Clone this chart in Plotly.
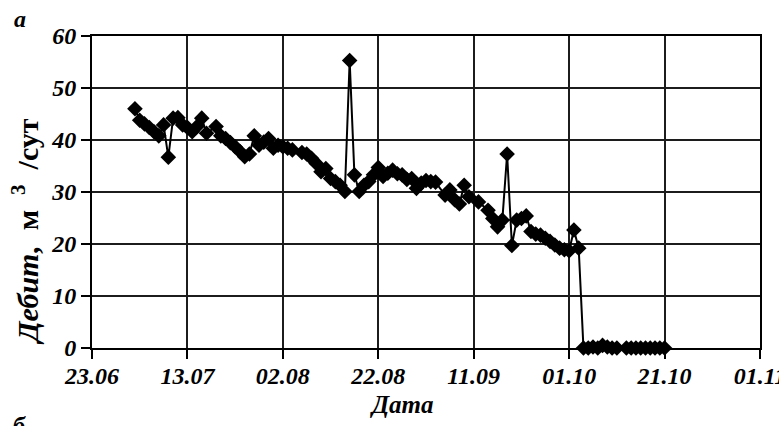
import datetime as dt
import plotly.graph_objects as go

# Day offsets from 23.06 and the measured flow rate (м³/сут)
start = dt.date(2010, 6, 23)
day_offsets = [
    9, 10, 11, 12, 13, 14, 15, 16, 17, 18, 19, 20, 21, 22, 23, 24, 26, 27, 28, 29,
    30, 31, 32, 33, 34, 35, 36, 37, 38, 39, 40, 41, 42, 44, 45, 46, 47, 48, 49, 50,
    51, 52, 53, 54, 55, 56, 57, 58, 59, 60, 61, 62, 63, 64, 65, 66, 67, 68, 69, 70,
    71, 72, 74, 75, 76, 77, 78, 79, 81, 83, 84, 85, 86, 87, 88, 89, 90, 91, 92, 93,
    94, 95, 96, 97, 98, 99, 100, 101, 102, 103, 104, 105, 106, 107, 108, 109, 110,
    112, 113, 114, 115, 116, 117, 118, 119, 120, 121,
]
flow_rate = [
    46.0, 43.8, 43.1, 42.4, 41.6, 40.8, 42.9, 36.7, 44.2, 44.3, 42.9, 42.4, 41.6, 42.6, 44.2, 41.3, 42.6, 40.8, 40.3, 39.5,
    38.7, 37.8, 36.8, 37.3, 40.8, 39.0, 39.6, 40.3, 38.4, 39.0, 38.7, 38.4, 38.1, 37.6, 37.3, 36.5, 35.5, 33.9, 34.5, 32.6,
    32.0, 31.3, 30.1, 55.3, 33.3, 30.1, 31.3, 32.0, 33.3, 34.7, 33.0, 33.6, 34.2, 33.5, 33.3, 32.4, 32.6, 30.7, 31.7, 32.2,
    32.0, 31.9, 29.4, 30.4, 28.5, 27.7, 31.3, 29.1, 28.1, 26.5, 24.9, 23.3, 24.6, 37.3, 19.7, 24.6, 24.9, 25.4, 22.4, 21.9,
    21.7, 21.1, 20.5, 19.8, 19.2, 18.9, 18.7, 22.7, 19.2, 0.0, 0.0, 0.2, 0.0, 0.5, 0.2, 0.0, 0.0,
    0.0, 0.0, 0.0, 0.0, 0.0, 0.0, 0.0, 0.0, 0.0, -0.3,
]
dates = [start + dt.timedelta(days=d) for d in day_offsets]

# Axis ticks every 20 days
tick_offsets = [0, 20, 40, 60, 80, 100, 120, 140]
tick_labels = ["23.06", "13.07", "02.08", "22.08", "11.09", "01.10", "21.10", "01.11"]
tick_dates = [dt.datetime.combine(start, dt.time()) + dt.timedelta(days=d) for d in tick_offsets]
y_ticks = [0, 10, 20, 30, 40, 50, 60]

SERIF = "Liberation Serif"
GRID = "#1c1c1c"
tick_font = dict(family=SERIF, size=24, color="black", weight="bold", style="italic")

fig = go.Figure()
fig.add_trace(go.Scatter(
    x=dates, y=flow_rate,
    mode="lines+markers",
    line=dict(color="black", width=2),
    marker=dict(symbol="diamond", size=12, color="black"),
    cliponaxis=False,
    showlegend=False,
))

# plot area in pixels: left 92, right 760, top 36, bottom 348
L, R, T, B = 92, 760, 36, 348
W, H = 779, 426


def px(x):
    return (x - L) / (R - L)


def py(y):
    return (B - y) / (B - T)


axis_style = dict(
    showgrid=True, gridcolor=GRID, gridwidth=2,
    showline=True, linecolor="black", linewidth=2, mirror=True,
    ticks="outside", ticklen=9, tickwidth=2, tickcolor="black",
    tickfont=tick_font, zeroline=False,
)

NB = "\u00a0"
fig.update_layout(
    template="none",
    width=W, height=H,
    margin=dict(l=L, r=W - R, t=T, b=H - B),
    paper_bgcolor="white", plot_bgcolor="white",
    xaxis=dict(
        type="date",
        range=[tick_dates[0], tick_dates[-1]],
        tickmode="array", tickvals=tick_dates, ticktext=tick_labels,
        ticklabeloverflow="allow", ticklabelstandoff=-4,
        **axis_style,
    ),
    yaxis=dict(
        range=[0, 60],
        tickmode="array", tickvals=y_ticks,
        **axis_style,
    ),
    annotations=[
        dict(text=f"<i>Дебит,</i>{NB} м {NB}<sup>3</sup>{NB} /сут", textangle=-90,
             xref="paper", yref="paper", x=px(25), y=py(232),
             showarrow=False, xanchor="center", yanchor="middle",
             font=dict(family=SERIF, size=30, color="black", weight="bold")),
        dict(text="Дата", xref="paper", yref="paper", x=px(402), y=py(404),
             showarrow=False, xanchor="center", yanchor="middle",
             font=dict(family=SERIF, size=25, color="black", weight="bold", style="italic")),
        dict(text="а", xref="paper", yref="paper", x=px(20), y=py(4),
             showarrow=False, xanchor="center", yanchor="top",
             font=dict(family=SERIF, size=24, color="black", weight="bold", style="italic")),
        dict(text="б", xref="paper", yref="paper", x=px(19), y=py(410),
             showarrow=False, xanchor="center", yanchor="top",
             font=dict(family=SERIF, size=24, color="black", weight="bold", style="italic")),
    ],
)

fig.write_html("out.html")
